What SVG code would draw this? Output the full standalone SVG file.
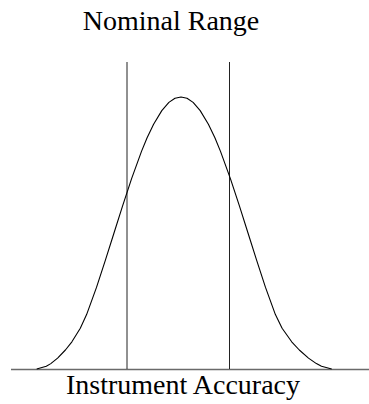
<svg xmlns="http://www.w3.org/2000/svg" width="369" height="404" viewBox="0 0 369 404">
<style>
text{font-family:'Liberation Serif','Tinos','Nimbus Roman','Nimbus Roman No9 L','FreeSerif','Times','DejaVu Serif','Noto Serif','Noto Serif CJK SC',serif;font-size:28px;fill:#000;text-anchor:middle}
.vline{stroke:#222;stroke-width:1;fill:none}
.base{stroke:#6a6a6a;stroke-width:1.6;fill:none}
.curve{stroke:#000;stroke-width:1.1;fill:none;stroke-linejoin:round}
</style>
<rect width="369" height="404" fill="#fff"/>
<g id="title"><text x="171" y="30">Nominal Range</text></g>
<g id="xlabel"><text x="183" y="394">Instrument Accuracy</text></g>
<g id="connectors">
<line id="baseline" class="base" x1="11" y1="369.5" x2="369" y2="369.5"/>
<line id="left-limit" class="vline" x1="127" y1="62" x2="127" y2="369"/>
<line id="right-limit" class="vline" x1="229.5" y1="62" x2="229.5" y2="369"/>
<polyline id="bell" class="curve" points="36.7,369 46.3,366.3 50.8,363.6 57.6,358.1 65.4,350 71.9,341.8 80.3,328.2 86.6,314.6 96.5,287.4 105.4,260.2 114,233 122.6,205.8 131.6,178.6 141.5,151.4 147.1,137.8 153.6,124.2 161.8,110.6 168.9,102.4 175,98.3 181,97 187,98.3 193.1,102.4 200.2,110.6 208.4,124.2 214.9,137.8 220.5,151.4 230.4,178.6 239.4,205.8 248,233 256.6,260.2 265.5,287.4 275.4,314.6 282.1,328.2 291.7,341.8 299.3,350 308.5,358.1 316.4,363.6 321.5,366.3 331.7,369"/>
</g>
</svg>
